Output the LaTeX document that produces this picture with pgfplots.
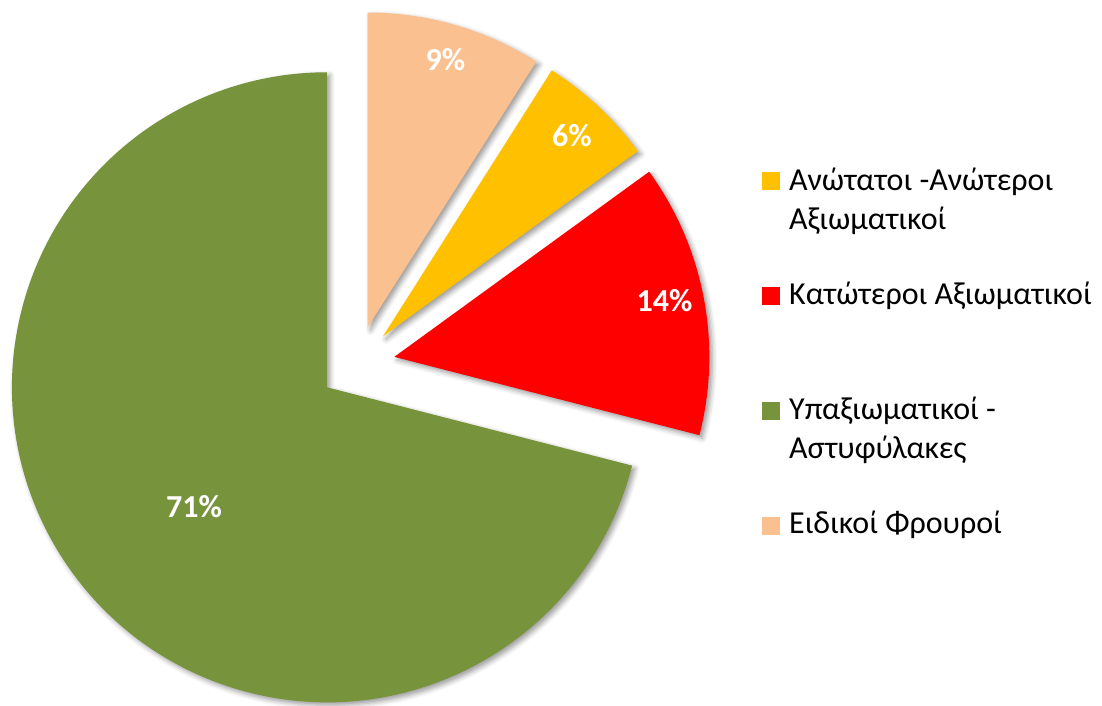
\documentclass[border=0pt]{standalone}
\usepackage{pgfplots}
\pgfplotsset{compat=1.18}
\usepackage{pgfplotstable}
\usepackage{fontspec}
\setmainfont{Carlito}
\usetikzlibrary{shadows.blur}

\definecolor{c0}{HTML}{FFC000}
\definecolor{c1}{HTML}{FF0000}
\definecolor{c2}{HTML}{77933C}
\definecolor{c3}{HTML}{FAC090}

% value (percent), label distance from slice apex, label angle offset
\pgfplotstableread{
val labr dang
6 276 0
14 276 1
71 179 4.2
9 279 0
}\piedata

\def\pcx{357}\def\pcy{342}\def\pR{315}\def\pD{38}
\def\cum{0}
\pgfplotsforeachungrouped \i in {0,...,3}{%
 \pgfplotstablegetelem{\i}{val}\of\piedata \let\v\pgfplotsretval
 \pgfplotstablegetelem{\i}{labr}\of\piedata \let\lr\pgfplotsretval
 \pgfplotstablegetelem{\i}{dang}\of\piedata \let\da\pgfplotsretval
 \pgfmathsetmacro\s{57.6-3.6*\cum}%
 \pgfmathsetmacro\e{\s-3.6*\v}%
 \pgfmathsetmacro\m{(\s+\e)/2}%
 \pgfmathsetmacro\ax{\pcx+\pD*cos(\m)}%
 \pgfmathsetmacro\ay{\pcy+\pD*sin(\m)}%
 \pgfmathsetmacro\lx{\ax+\lr*cos(\m+\da)}%
 \pgfmathsetmacro\ly{\ay+\lr*sin(\m+\da)}%
 \expandafter\xdef\csname pv\i\endcsname{\v}%
 \expandafter\xdef\csname ps\i\endcsname{\s}%
 \expandafter\xdef\csname pe\i\endcsname{\e}%
 \expandafter\xdef\csname pax\i\endcsname{\ax}%
 \expandafter\xdef\csname pay\i\endcsname{\ay}%
 \expandafter\xdef\csname plx\i\endcsname{\lx}%
 \expandafter\xdef\csname ply\i\endcsname{\ly}%
 \pgfmathsetmacro\cum{\cum+\v}%
 \xdef\cum{\cum}%
}

\begin{document}
\begin{tikzpicture}
\begin{axis}[
  x=1pt, y=1pt,
  xmin=0, xmax=1102, ymin=0, ymax=706,
  hide axis, clip=true,
]
\pgfplotsinvokeforeach{2,0,1,3}{%
  \edef\tmp{\noexpand\fill[c#1, blur shadow={shadow xshift=3pt, shadow yshift=-3pt, shadow blur radius=5pt, shadow opacity=40}]
    (axis cs:\csname pax#1\endcsname,\csname pay#1\endcsname) -- ++(\csname ps#1\endcsname:\pR pt)
    arc[start angle=\csname ps#1\endcsname, end angle=\csname pe#1\endcsname, radius=\pR pt] -- cycle;}%
  \tmp
}
\pgfplotsinvokeforeach{0,...,3}{%
  \edef\tmp{\noexpand\node[text=white, font=\noexpand\fontsize{32}{38}\noexpand\selectfont\noexpand\bfseries]
    at (axis cs:\csname plx#1\endcsname,\csname ply#1\endcsname) {\csname pv#1\endcsname\noexpand\%};}%
  \tmp
}
% legend
\fill[c0] (axis cs:762,516) rectangle (axis cs:780,534);
\fill[c1] (axis cs:762,401) rectangle (axis cs:780,419);
\fill[c2] (axis cs:762,286) rectangle (axis cs:780,304);
\fill[c3] (axis cs:762,171) rectangle (axis cs:780,189);
\begin{scope}[every node/.style={anchor=base west, inner sep=0pt, font=\fontsize{32}{38}\selectfont, text=black}]
\node at (axis cs:789,515) {Ανώτατοι -Ανώτεροι};
\node at (axis cs:789,476) {Αξιωματικοί};
\node at (axis cs:789,401) {Κατώτεροι Αξιωματικοί};
\node at (axis cs:789,286) {Υπαξιωματικοί -};
\node at (axis cs:789,247) {Αστυφύλακες};
\node at (axis cs:789,172) {Ειδικοί Φρουροί};
\end{scope}
\end{axis}
\pgfresetboundingbox
\path (current axis.south west) rectangle (current axis.north east);
\end{tikzpicture}
\end{document}
